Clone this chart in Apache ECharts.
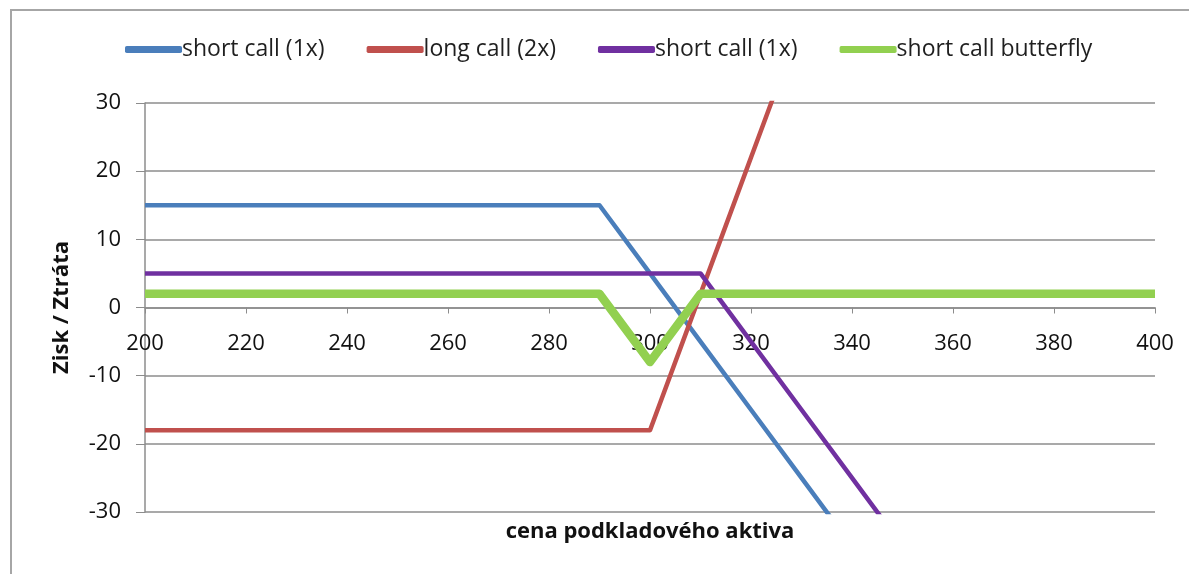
<!DOCTYPE html>
<html>
<head>
<meta charset="utf-8">
<script src="https://cdn.jsdelivr.net/npm/echarts@6/dist/echarts.min.js"></script>
<style>
  html, body { margin: 0; padding: 0; background: #fff; }
  #chart { width: 1189px; height: 574px; }
</style>
</head>
<body>
<div id="chart"></div>
<script>
// price of the underlying, step 10
const prices = [200, 210, 220, 230, 240, 250, 260, 270, 280, 290, 300,
                310, 320, 330, 340, 350, 360, 370, 380, 390, 400];

const shortCall290 = [15, 15, 15, 15, 15, 15, 15, 15, 15, 15, 5,
                      -5, -15, -25, -35, -45, -55, -65, -75, -85, -95];
const longCall300 = [-18, -18, -18, -18, -18, -18, -18, -18, -18, -18, -18,
                     2, 22, 42, 62, 82, 102, 122, 142, 162, 182];
const shortCall310 = [5, 5, 5, 5, 5, 5, 5, 5, 5, 5, 5,
                      5, -5, -15, -25, -35, -45, -55, -65, -75, -85];
const butterfly = [2, 2, 2, 2, 2, 2, 2, 2, 2, 2, -8,
                   2, 2, 2, 2, 2, 2, 2, 2, 2, 2];

// the two short calls share a label, the trailing space keeps them apart
const seriesNames = ['short call (1x)', 'long call (2x)', 'short call (1x) ', 'short call butterfly'];
const seriesColors = ['#4a7ebb', '#c0504d', '#7030a0', '#92d050'];

const pairs = vals => prices.map((p, i) => [p, vals[i]]);

const chart = echarts.init(document.getElementById('chart'));
const font = '"Open Sans", "Noto Sans", sans-serif';

const mkLine = (name, vals, color, width, z) => ({
  name,
  type: 'line',
  data: pairs(vals),
  showSymbol: false,
  symbol: 'none',
  clip: true,
  z,
  lineStyle: { color, width, join: 'round' },
  itemStyle: { color }
});

chart.setOption({
  animation: false,
  backgroundColor: '#fff',
  graphic: [{
    type: 'rect',
    shape: { x: 11, y: 10, width: 1300, height: 700 },
    style: { fill: 'none', stroke: '#a6a6a6', lineWidth: 2 }
  }],
  legend: {
    top: 33,
    left: 120,
    itemWidth: 57,
    itemHeight: 7,
    itemGap: 42,
    icon: 'roundRect',
    data: seriesNames.map((n, i) => ({ name: n, itemStyle: { color: seriesColors[i] } })),
    formatter: n => n.trim(),
    textStyle: { fontFamily: font, fontSize: 23, color: '#1f1f1f', padding: [0, 0, 0, -5] }
  },
  grid: { left: 145, right: 34, top: 103, bottom: 62, outerBoundsMode: 'none' },
  xAxis: {
    type: 'value',
    min: 200,
    max: 400,
    interval: 20,
    // axis sits on the zero line (middle of the -30..30 range)
    offset: -204.5,
    name: 'cena podkladového aktiva',
    nameLocation: 'middle',
    nameGap: 213,
    nameTextStyle: { fontFamily: font, fontSize: 22, fontWeight: 'bold', color: '#111' },
    axisLine: { onZero: false, lineStyle: { color: '#8c8c8c', width: 1.5 } },
    axisTick: { show: true, length: 6, lineStyle: { color: '#8c8c8c' } },
    axisLabel: { fontFamily: font, fontSize: 22, color: '#111', margin: 25 },
    splitLine: { show: false }
  },
  yAxis: {
    type: 'value',
    min: -30,
    max: 30,
    interval: 10,
    name: 'Zisk / Ztráta',
    nameLocation: 'middle',
    nameRotate: 90,
    nameGap: 72,
    nameTextStyle: { fontFamily: font, fontSize: 22, fontWeight: 'bold', color: '#111' },
    axisLine: { show: true, onZero: false, lineStyle: { color: '#8c8c8c', width: 1.5 } },
    axisTick: { show: true, length: 9, lineStyle: { color: '#8c8c8c' } },
    axisLabel: { fontFamily: font, fontSize: 22, color: '#111', margin: 24 },
    splitLine: { show: true, lineStyle: { color: '#8c8c8c', width: 1.5 } }
  },
  series: [
    mkLine(seriesNames[0], shortCall290, seriesColors[0], 4.5, 2),
    mkLine(seriesNames[1], longCall300, seriesColors[1], 4.5, 3),
    mkLine(seriesNames[2], shortCall310, seriesColors[2], 4.5, 4),
    mkLine(seriesNames[3], butterfly, seriesColors[3], 8.5, 5)
  ]
});
</script>
</body>
</html>
